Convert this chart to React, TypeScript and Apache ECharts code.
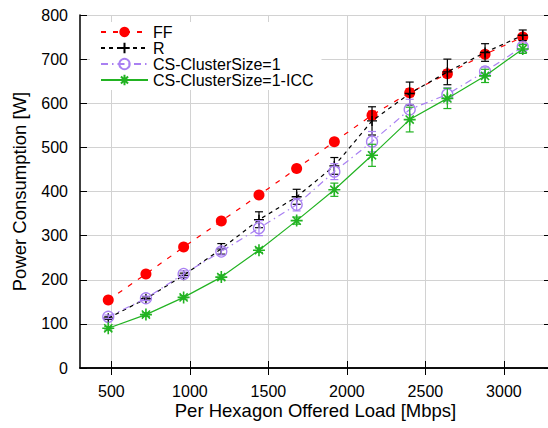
import React, { useEffect, useRef } from "react";
import * as echarts from "echarts";

const loads = [480, 720, 960, 1200, 1440, 1680, 1920, 2160, 2400, 2640, 2880, 3120];
const ffValues = [154, 213, 274, 333, 392, 452, 513, 573, 624, 667, 711, 750];
const ffErrors = [2, 3, 3, 4, 4, 5, 6, 9, 9, 8, 7, 6];
const rValues = [113, 157, 210, 270, 336, 388, 458, 560, 622, 671, 715, 754];
const rErrors = [3, 4, 5, 12, 18, 17, 19, 32, 26, 29, 20, 12];
const csValues = [116, 158, 213, 264, 317, 370, 445, 513, 586, 620, 672, 728];
const csErrors = [4, 5, 7, 8, 17, 14, 18, 23, 23, 15, 10, 8];
const iccValues = [90, 121, 160, 206, 267, 334, 404, 482, 563, 611, 662, 723];
const iccErrors = [4, 4, 4, 5, 5, 8, 15, 25, 28, 23, 15, 10];
const xTicks = [500, 1000, 1500, 2000, 2500, 3000];
const seriesNames = ["FF", "R", "CS-ClusterSize=1", "CS-ClusterSize=1-ICC"];

const FONT = "'Liberation Sans', Arial, Helvetica, sans-serif";
const RED = "#ff0000";
const BLACK = "#000000";
const PURPLE = "#a980f2";
const GREEN = "#22b322";

const PLUS = "path://M5,0L5,10M0,5L10,5";
const STAR = "path://M5,0L5,10M0,5L10,5M1.6,1.6L8.4,8.4M1.6,8.4L8.4,1.6";

function errSeries(name: string, values: number[], errors: number[], color: string, z: number) {
  return {
    type: "custom",
    name,
    z,
    silent: true,
    data: loads.map((x, i) => [x, values[i] - errors[i], values[i] + errors[i]]),
    encode: { x: 0, y: [1, 2] },
    renderItem: (params: any, api: any) => {
      const x = api.value(0);
      const lo = api.coord([x, api.value(1)]);
      const hi = api.coord([x, api.value(2)]);
      const w = 4;
      const style = { stroke: color, lineWidth: 1.2, fill: "none" };
      return {
        type: "group",
        children: [
          { type: "line", shape: { x1: lo[0], y1: lo[1], x2: hi[0], y2: hi[1] }, style },
          { type: "line", shape: { x1: lo[0] - w, y1: lo[1], x2: lo[0] + w, y2: lo[1] }, style },
          { type: "line", shape: { x1: hi[0] - w, y1: hi[1], x2: hi[0] + w, y2: hi[1] }, style },
        ],
      };
    },
  };
}

function lineSeries(
  name: string,
  values: number[],
  color: string,
  dash: any,
  symbol: string,
  symbolSize: number,
  itemStyle: any,
  z: number
) {
  return {
    type: "line",
    name,
    z,
    data: loads.map((x, i) => [x, values[i]]),
    symbol,
    symbolSize,
    showAllSymbol: true,
    lineStyle: { color, width: 1.2, type: dash },
    itemStyle,
    emphasis: { disabled: true },
  };
}

export default function App() {
  const ref = useRef<HTMLDivElement>(null);
  useEffect(() => {
    if (!ref.current) return;
    const chart = echarts.init(ref.current, null, { renderer: "svg" });
    const axisLineStyle = { color: "#000", width: 1.5 };
    const plain = (v: number) => String(v);
    const option: any = {
      animation: false,
      textStyle: { fontFamily: FONT },
      grid: { left: 80, top: 15, right: -3, bottom: 60, outerBoundsMode: "none" },
      legend: {
        data: seriesNames,
        orient: "vertical",
        left: 90,
        top: 22,
        padding: [2, 8, 2, 10],
        backgroundColor: "#ffffff",
        itemWidth: 47,
        itemHeight: 13,
        itemGap: 0,
        itemTextGap: 11,
        textStyle: { fontSize: 16, lineHeight: 16, color: "#000", fontFamily: FONT },
        z: 20,
      },
      xAxis: [
        {
          type: "value",
          position: "bottom",
          min: 300,
          max: 3300,
          name: "Per Hexagon Offered Load [Mbps]",
          nameLocation: "middle",
          nameGap: 33,
          nameMoveOverlap: false,
          nameTextStyle: { fontSize: 18.5, color: "#000", fontFamily: FONT },
          axisLine: { show: true, lineStyle: axisLineStyle },
          axisTick: { show: true, inside: true, length: 7, customValues: xTicks, lineStyle: { color: "#000", width: 1 } },
          axisLabel: { customValues: xTicks, formatter: plain, fontSize: 16, color: "#000", margin: 15, fontFamily: FONT },
          splitLine: { show: true, lineStyle: { color: "#d2d2d2", width: 1 } },
        },
        {
          type: "value",
          position: "top",
          min: 300,
          max: 3300,
          axisLine: { show: true, lineStyle: axisLineStyle },
          axisTick: { show: true, inside: true, length: 7, customValues: xTicks, lineStyle: { color: "#000", width: 1 } },
          axisLabel: { show: false },
          splitLine: { show: false },
        },
      ],
      yAxis: [
        {
          type: "value",
          position: "left",
          min: 0,
          max: 800,
          interval: 100,
          name: "Power Consumption [W]",
          nameLocation: "middle",
          nameGap: 51,
          nameMoveOverlap: false,
          nameTextStyle: { fontSize: 18.5, color: "#000", fontFamily: FONT },
          axisLine: { show: true, lineStyle: axisLineStyle },
          axisTick: { show: true, inside: true, length: 7, lineStyle: { color: "#000", width: 1 } },
          axisLabel: { formatter: plain, fontSize: 16, color: "#000", margin: 12, fontFamily: FONT },
          splitLine: { show: true, lineStyle: { color: "#d2d2d2", width: 1 } },
        },
        {
          type: "value",
          position: "right",
          min: 0,
          max: 800,
          interval: 100,
          axisLine: { show: true, lineStyle: axisLineStyle },
          axisTick: { show: true, inside: true, length: 7, lineStyle: { color: "#000", width: 1 } },
          axisLabel: { show: false },
          splitLine: { show: false },
        },
      ],
      series: [
        errSeries("FF-err", ffValues, ffErrors, RED, 2),
        lineSeries("FF", ffValues, RED, [5, 7], "circle", 11, { color: RED }, 3),
        errSeries("R-err", rValues, rErrors, BLACK, 4),
        lineSeries("R", rValues, BLACK, [4, 4], PLUS, 10, { color: BLACK, borderColor: BLACK, borderWidth: 1.4 }, 5),
        errSeries("CS-err", csValues, csErrors, PURPLE, 6),
        lineSeries(
          "CS-ClusterSize=1",
          csValues,
          PURPLE,
          [7, 4, 1.5, 4],
          "circle",
          11,
          { color: "rgba(0,0,0,0)", borderColor: PURPLE, borderWidth: 1.3 },
          7
        ),
        errSeries("ICC-err", iccValues, iccErrors, GREEN, 8),
        lineSeries("CS-ClusterSize=1-ICC", iccValues, GREEN, "solid", STAR, 12, { color: GREEN, borderColor: GREEN, borderWidth: 1.6 }, 9),
      ],
    };
    chart.setOption(option);
    return () => chart.dispose();
  }, []);
  return (
    <div style={{ position: "fixed", left: 0, top: 0, width: 548, height: 428, overflow: "hidden", background: "#fff" }}>
      <div ref={ref} style={{ width: 548, height: 428 }} />
    </div>
  );
}
